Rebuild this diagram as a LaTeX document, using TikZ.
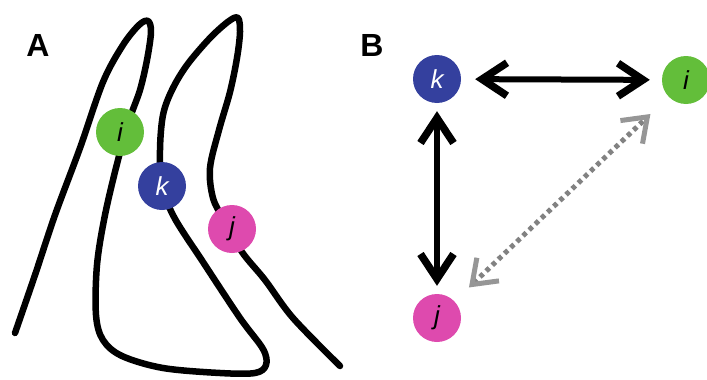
\documentclass[tikz,border=0pt]{standalone}
\usepackage{fontspec}
\setmainfont{Liberation Sans}
\usetikzlibrary{arrows.meta}
\definecolor{cgreen}{RGB}{99,190,58}
\definecolor{cblue}{RGB}{52,64,158}
\definecolor{cpink}{RGB}{222,74,174}
\definecolor{cgray}{RGB}{130,130,130}
\definecolor{cgrayhead}{RGB}{150,150,150}
\tikzset{
  ball/.style={circle, minimum size=48pt, inner sep=0pt, font=\fontsize{26}{26}\selectfont\itshape},
  gball/.style={ball, fill=cgreen, text=black},
  bball/.style={ball, fill=cblue, text=white},
  pball/.style={ball, fill=cpink, text=black},
  panel/.style={font=\fontsize{32}{32}\selectfont\bfseries},
  strand/.style={line width=6.5pt, line cap=round, line join=round},
  barb/.tip={Straight Barb[length=25pt,width=33pt,line width=7.5pt]},
  greybarb/.tip={Straight Barb[length=22pt,width=32pt,line width=5pt,color=cgrayhead]},
  link/.style={line width=6pt, barb-barb},
  weak/.style={line width=5pt, draw=cgray, dash pattern=on 4.5pt off 4pt, greybarb-greybarb}
}
\begin{document}
\begin{tikzpicture}[x=1pt,y=-1pt]
\useasboundingbox (0,0) rectangle (707,380);

% panel A: folded chain
\draw[strand] plot[smooth, tension=0.55] coordinates {
  (15,333) (35,275) (55,215) (80,148) (103,82) (123,45) (139,25) (148,21)
  (151,32) (147,60) (140,90) (130,118) (118,160) (105,215) (97,265) (96,315)
  (103,340) (122,356) (163,368) (220,373) (255,373) (266,365) (263,349)
  (240,318) (203,262) (174,217) (162,185) (160,150) (163,115) (172,90)
  (187,65) (210,38) (229,21) (238,18) (240,32) (237,58) (230,92) (219,130)
  (210,168) (213,198) (224,220) (242,252) (265,280) (293,318) (340,366)};

\node[panel] (lblA) at (38,45) {A};
\node[gball] (ai) at (120,132) {i};
\node[bball] (ak) at (162,186) {k};
\node[pball] (aj) at (232,229) {j};

% panel B: contact graph
\node[panel] (lblB) at (372,45) {B};
\node[bball] (bk) at (437,79) {k};
\node[gball] (bi) at (686,80) {i};
\node[pball] (bj) at (437,318) {j};

\draw[link, shorten <=14pt, shorten >=12pt] (bk) -- (bi);
\draw[link, shorten <=8pt, shorten >=8pt] (bk) -- (bj);
\draw[weak, shorten <=20pt, shorten >=25pt] (bj) -- (bi);
\end{tikzpicture}
\end{document}
